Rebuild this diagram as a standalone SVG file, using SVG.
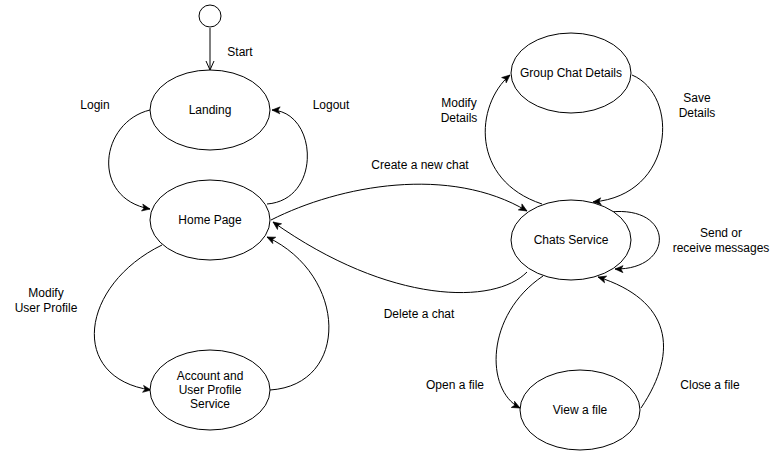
<svg xmlns="http://www.w3.org/2000/svg" width="780" height="451" viewBox="0 0 780 451">
<style>
.node ellipse{fill:#fff;stroke:#000;stroke-width:1}
text{font-family:"Liberation Sans",Arial,sans-serif;font-size:12px;fill:#000;text-anchor:middle;dominant-baseline:central}
.edge{fill:none;stroke:#000;stroke-width:1}
</style>
<defs>
<marker id="arr" markerUnits="userSpaceOnUse" markerWidth="10" markerHeight="10" viewBox="0 0 10 10" refX="9" refY="5" orient="auto">
<path d="M1,1.5 L9,5 L1,8.5 L3,5 z" fill="#000" stroke="#000" stroke-width="0.6"/>
</marker>
<marker id="open" markerUnits="userSpaceOnUse" markerWidth="12" markerHeight="12" viewBox="0 0 12 12" refX="10" refY="6" orient="auto">
<path d="M1,2 L10,6 L1,10" fill="none" stroke="#000" stroke-width="1"/>
</marker>
</defs>
<g id="connectors">
<path class="edge" d="M210,28 L210,70" marker-end="url(#open)"/>
<path class="edge" d="M150,110 C100,122 90,198 150,209" marker-end="url(#arr)"/>
<path class="edge" d="M267,204 C322,200 318,112 272,110" marker-end="url(#arr)"/>
<path class="edge" d="M271,220 C340,185 450,165 527,211" marker-end="url(#arr)"/>
<path class="edge" d="M527,272 C495,305 390,305 273,222" marker-end="url(#arr)"/>
<path class="edge" d="M162,245 C80,285 68,378 151,390" marker-end="url(#arr)"/>
<path class="edge" d="M270,390 C350,385 348,275 267,237" marker-end="url(#arr)"/>
<path class="edge" d="M542,204 C470,180 475,105 510,75" marker-end="url(#arr)"/>
<path class="edge" d="M632,75 C680,95 675,195 593,202" marker-end="url(#arr)"/>
<path class="edge" d="M610,212 C675,205 675,270 615,269" marker-end="url(#arr)"/>
<path class="edge" d="M543,276 C485,315 485,390 520,408" marker-end="url(#arr)"/>
<path class="edge" d="M641,408 C680,350 670,300 598,277" marker-end="url(#arr)"/>
</g>
<g id="labels">
<text x="240" y="52">Start</text>
<text x="95" y="105">Login</text>
<text x="331" y="105">Logout</text>
<text x="420" y="165">Create a new chat</text>
<text x="419" y="314">Delete a chat</text>
<text x="46" y="293">Modify</text>
<text x="46" y="308">User Profile</text>
<text x="459" y="103">Modify</text>
<text x="459" y="118">Details</text>
<text x="697" y="98">Save</text>
<text x="697" y="113">Details</text>
<text x="721" y="233">Send or</text>
<text x="721" y="248">receive messages</text>
<text x="455" y="385">Open a file</text>
<text x="710" y="385">Close a file</text>
</g>
<g id="start" class="node"><ellipse cx="210" cy="16" rx="11" ry="11"/></g>
<g id="landing" class="node"><ellipse cx="210" cy="110" rx="60" ry="40"/><text x="210" y="110">Landing</text></g>
<g id="home" class="node"><ellipse cx="210" cy="220" rx="60" ry="40"/><text x="210" y="220">Home Page</text></g>
<g id="account" class="node"><ellipse cx="210" cy="390" rx="60" ry="40"/><text x="210" y="376">Account and</text><text x="210" y="390">User Profile</text><text x="210" y="404">Service</text></g>
<g id="group" class="node"><ellipse cx="571" cy="73" rx="60" ry="40"/><text x="571" y="73">Group Chat Details</text></g>
<g id="chats" class="node"><ellipse cx="571" cy="240" rx="60" ry="40"/><text x="571" y="240">Chats Service</text></g>
<g id="view" class="node"><ellipse cx="580" cy="410" rx="60" ry="40"/><text x="580" y="410">View a file</text></g>
</svg>
